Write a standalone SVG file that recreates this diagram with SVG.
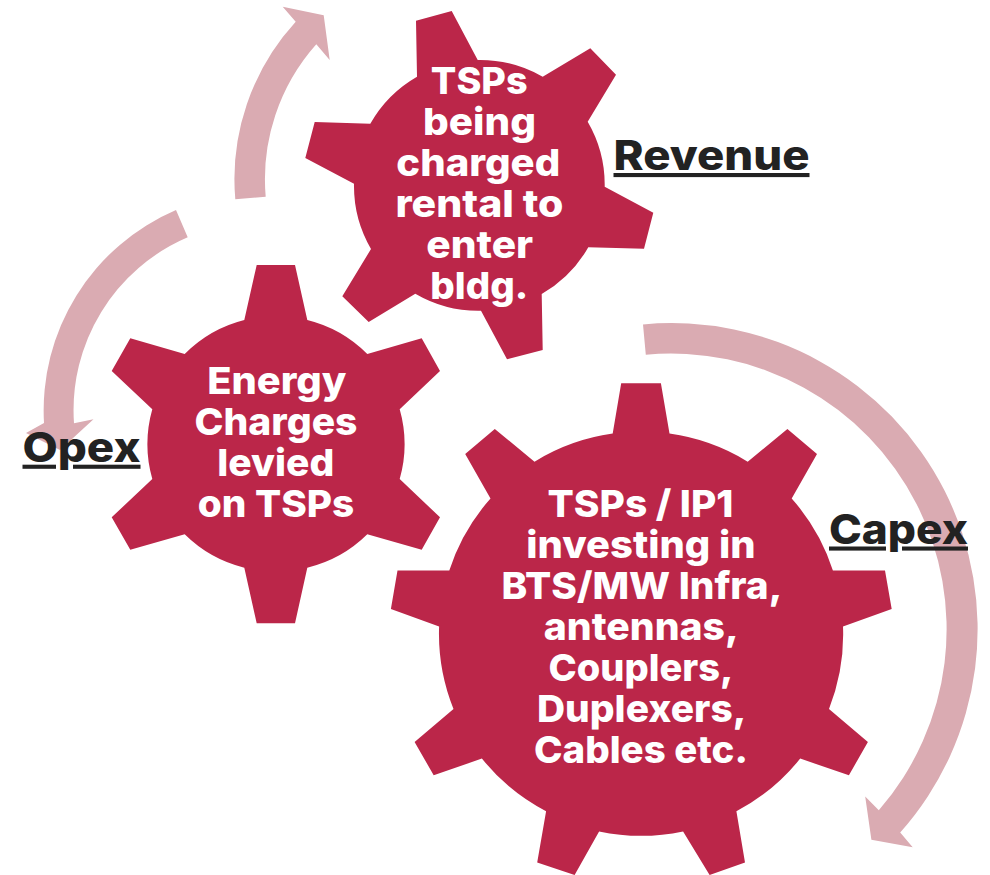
<svg xmlns="http://www.w3.org/2000/svg" width="990" height="875" viewBox="0 0 990 875">
<style>
.gear{fill:#bb2649}
.arrow{fill:#daabb2}
text{font-family:"Inter","Open Sans","Liberation Sans",sans-serif;font-weight:800;text-anchor:middle}
.t{fill:#fff;font-size:37.5px}
.l{fill:#222;font-size:41px;text-decoration:underline;text-decoration-skip-ink:none}
</style>
<rect width="990" height="875" fill="#fff"/>
<g id="connectors">
<path class="arrow" d="M235.3 199.3A233 233 0 0 1 295.7 21.7L282.7 6.7L323.7 15.3L329.7 60L316.3 44.3A203 203 0 0 0 265.7 196.7Z"/>
<path class="arrow" d="M176 210A218 218 0 0 0 44 423L26 433L60 450L93.5 419.3L74 423.3A188 188 0 0 1 187.7 237.3Z"/>
<path class="arrow" d="M643 324.4A306 306 0 0 1 900.2 832.5L912.7 847.3L871.4 839.7L865.2 796.5L878.8 810.2A275.6 275.6 0 0 0 645.8 354.7Z"/>
</g>
<g id="gear-revenue">
<path class="gear" d="M416 20.7L451.7 11L477.7 60A125.5 125.5 0 0 1 542.7 76.7L590.3 48.3L616 74.7L587.7 121.7A125.5 125.5 0 0 1 604.7 186.7L653.3 212.7L644 248.7L588.3 247.3A125.5 125.5 0 0 1 541.7 294L542.7 350L507 359.3L481 310.7A125.5 125.5 0 0 1 415.3 293.7L368.7 322L342.3 296.3L371 249A125.5 125.5 0 0 1 354 183.7L305.3 158L314.7 122L370.3 123.7A125.5 125.5 0 0 1 417 76.7Z"/>
<text class="t" x="479.2" y="93.8" textLength="96.7" lengthAdjust="spacingAndGlyphs">TSPs</text>
<text class="t" x="479.5" y="134.8" textLength="113" lengthAdjust="spacingAndGlyphs">being</text>
<text class="t" x="478.3" y="175.8" textLength="164" lengthAdjust="spacingAndGlyphs">charged</text>
<text class="t" x="479.5" y="216.8" textLength="168" lengthAdjust="spacingAndGlyphs">rental to</text>
<text class="t" x="479.7" y="257.8" textLength="107" lengthAdjust="spacingAndGlyphs">enter</text>
<text class="t" x="479.3" y="298.8" textLength="98" lengthAdjust="spacingAndGlyphs">bldg.</text>
</g>
<g id="gear-opex">
<path class="gear" d="M256.7 265L295 265L307.3 320A128 128 0 0 1 367.3 354L421.7 338.3L440 371L399.7 409.3A128 128 0 0 1 399.7 479L440 517.3L421.7 549.7L367.3 534.3A128 128 0 0 1 307.3 567.7L295 623.3L256.7 623.3L244.3 567.7A128 128 0 0 1 184.7 534.3L130.3 549.7L111.7 517.3L152.3 479A128 128 0 0 1 152.3 409.3L111.7 371L130.3 338.3L184.7 354A128 128 0 0 1 244.3 320Z"/>
<text class="t" x="276.8" y="393.8" textLength="139.3" lengthAdjust="spacingAndGlyphs">Energy</text>
<text class="t" x="276" y="434.8" textLength="163" lengthAdjust="spacingAndGlyphs">Charges</text>
<text class="t" x="275.8" y="475.8" textLength="117" lengthAdjust="spacingAndGlyphs">levied</text>
<text class="t" x="276" y="516.8" textLength="156.5" lengthAdjust="spacingAndGlyphs">on TSPs</text>
</g>
<g id="gear-capex">
<path class="gear" d="M621.2 383.2L660.9 383.2L669.5 433.6A202 202 0 0 1 747.7 461.7L787.4 428.9L817 454.1L791.7 498.5A202 202 0 0 1 832.9 570.5L885 570.5L891.7 609.1L843 626.4A202 202 0 0 1 829 708.9L867.9 742.1L848.9 775.2L800.2 758.6A202 202 0 0 1 736.4 811.3L745 862.4L709.6 875L683.1 831.4A202 202 0 0 1 599.1 831.4L574.6 875L537.2 862.4L546.1 811.3A202 202 0 0 1 481.9 758.6L433.7 775.2L414.6 742.1L453.5 708.9A202 202 0 0 1 439.1 626.4L390.9 609.1L397.5 570.5L449.3 570.5A202 202 0 0 1 490.5 498.5L465.2 454.1L494.8 428.9L534.5 461.7A202 202 0 0 1 612.7 433.6Z"/>
<text class="t" x="640.5" y="517" textLength="186" lengthAdjust="spacingAndGlyphs">TSPs / IP1</text>
<text class="t" x="641" y="558" textLength="229.4" lengthAdjust="spacingAndGlyphs">investing in</text>
<text class="t" x="641.9" y="599" textLength="281" lengthAdjust="spacingAndGlyphs">BTS/MW Infra,</text>
<text class="t" x="641.3" y="640" textLength="195" lengthAdjust="spacingAndGlyphs">antennas,</text>
<text class="t" x="641" y="681" textLength="185" lengthAdjust="spacingAndGlyphs">Couplers,</text>
<text class="t" x="641.7" y="722" textLength="209.6" lengthAdjust="spacingAndGlyphs">Duplexers,</text>
<text class="t" x="641" y="763" textLength="214" lengthAdjust="spacingAndGlyphs">Cables etc.</text>
</g>
<g id="labels">
<text class="l" x="711.5" y="170" textLength="196" lengthAdjust="spacingAndGlyphs">Revenue</text>
<text class="l" x="81.5" y="461.7" textLength="118" lengthAdjust="spacingAndGlyphs">Opex</text>
<text class="l" x="898.5" y="543.5" textLength="139" lengthAdjust="spacingAndGlyphs">Capex</text>
</g>
</svg>
